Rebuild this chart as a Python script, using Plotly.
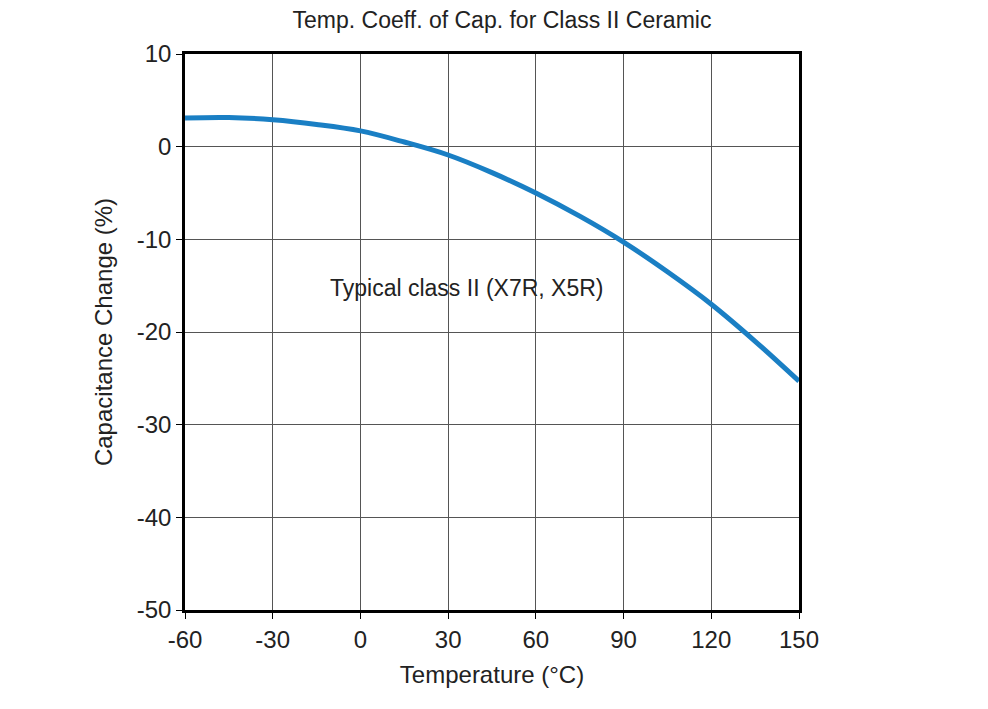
import plotly.graph_objects as go

temps = [-60, -45, -30, -15, 0, 15, 30, 45, 60, 75, 90, 105, 120, 135, 150]
cap_change = [3.1, 3.15, 2.9, 2.4, 1.7, 0.5, -0.9, -2.8, -5.0, -7.5, -10.3, -13.5, -17.0, -21.0, -25.3]
x_ticks = [-60, -30, 0, 30, 60, 90, 120, 150]
y_ticks = [10, 0, -10, -20, -30, -40, -50]

fig = go.Figure(go.Scatter(x=temps, y=cap_change, mode="lines", line=dict(color="#1a7fc4", width=5, shape="spline")))
fig.add_annotation(x=36.5, y=-15.2, text="Typical class II (X7R, X5R)", showarrow=False,
                   font=dict(size=23, color="#222"))
ax = dict(showline=True, linecolor="black", linewidth=2.5, mirror=True, gridcolor="#555", gridwidth=1,
          ticks="outside", ticklen=6, tickcolor="black", zeroline=False,
          tickfont=dict(size=24, color="#222"))
fig.update_xaxes(range=[-60, 150], tickvals=x_ticks, ticktext=[str(v) for v in x_ticks],
                 title=dict(text="Temperature (°C)", font=dict(size=24, color="#222"), standoff=15), **ax)
fig.update_yaxes(range=[-50, 10], tickvals=y_ticks, ticktext=[str(v) for v in y_ticks],
                 title=dict(text="Capacitance Change (%)", font=dict(size=24, color="#222"), standoff=18), **ax)
fig.update_layout(width=988, height=709, margin=dict(l=177, r=197, t=46, b=107),
                  plot_bgcolor="white", paper_bgcolor="white", showlegend=False,
                  font=dict(family="Liberation Sans, Arial"),
                  title=dict(text="Temp. Coeff. of Cap. for Class II Ceramic", x=0.5, y=0.995, xanchor="center", yanchor="top",
                             font=dict(size=23, color="#222")))
fig.write_html("out.html")
